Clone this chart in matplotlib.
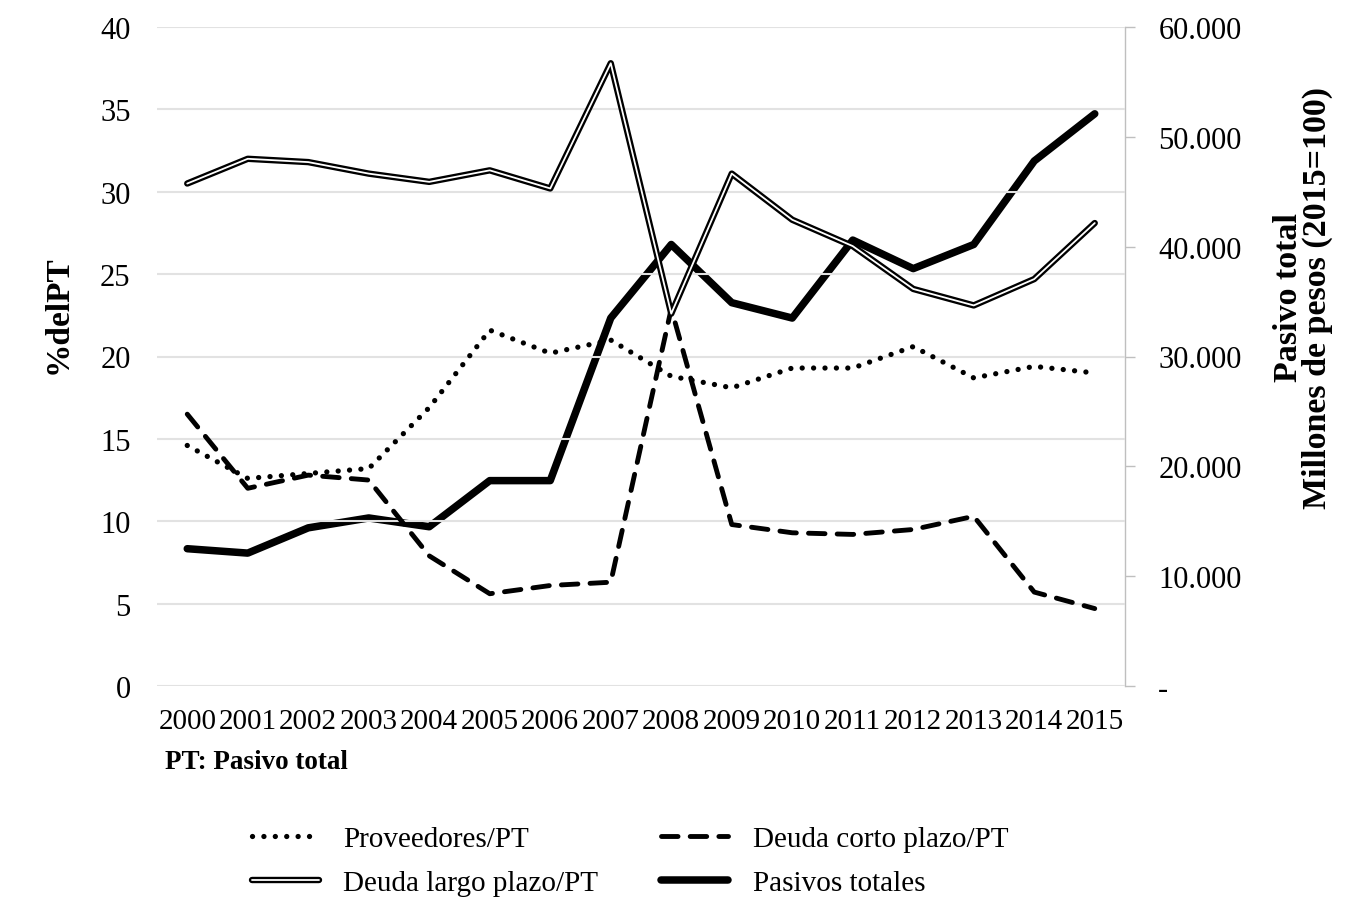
import matplotlib
matplotlib.use("Agg")
import matplotlib.pyplot as plt
import matplotlib.patheffects as pe
from matplotlib.ticker import FuncFormatter

plt.rcParams['font.family'] = ['Liberation Serif', 'DejaVu Serif']

years = list(range(2000, 2016))
proveedores = [14.6, 12.6, 12.9, 13.2, 16.9, 21.6, 20.2, 21.0, 18.8, 18.1, 19.3, 19.3, 20.6, 18.7, 19.4, 19.0]
deuda_corto = [16.5, 12.0, 12.8, 12.5, 7.9, 5.6, 6.1, 6.3, 22.9, 9.8, 9.3, 9.2, 9.5, 10.3, 5.7, 4.7]
deuda_largo = [30.5, 32.0, 31.8, 31.1, 30.6, 31.3, 30.2, 37.8, 22.6, 31.1, 28.3, 26.7, 24.1, 23.1, 24.7, 28.1]
pasivos_totales = [12500, 12100, 14400, 15300, 14500, 18700, 18700, 33500, 40200, 34900, 33500, 40600, 38000, 40200, 47800, 52100]

left_ticks = [0, 5, 10, 15, 20, 25, 30, 35, 40]
right_ticks = [0, 10000, 20000, 30000, 40000, 50000, 60000]

W, H = 1358, 903
fig = plt.figure(figsize=(W / 100, H / 100), dpi=100)
ax = fig.add_axes([157 / W, 1 - 687 / H, (1125 - 157) / W, (687 - 28) / H])
ax2 = ax.twinx()

ax.set_xlim(1999.5, 2015.5)
ax.set_ylim(0, 40)
ax2.set_ylim(0, 60000)

ax.set_yticks(left_ticks)
ax.grid(axis='y', color='#e2e2e2', linewidth=1.5)
ax.set_axisbelow(True)
for s in ['top', 'right', 'left', 'bottom']:
    ax.spines[s].set_visible(False)
for s in ['top', 'left', 'bottom']:
    ax2.spines[s].set_visible(False)
ax2.spines['right'].set_color('#bfbfbf')
ax2.spines['right'].set_linewidth(1.0)

ax.tick_params(axis='y', length=0, labelsize=22, pad=19)
ax.tick_params(axis='x', length=0, labelsize=21, pad=16)
ax.set_xticks(years)
ax.set_xticklabels([str(y) for y in years])

ax2.set_yticks(right_ticks)
ax2.yaxis.set_major_formatter(FuncFormatter(lambda v, p: '-' if v == 0 else f"{v:,.0f}".replace(",", ".")))
ax2.tick_params(axis='y', length=7, color='#bfbfbf', width=1.0, labelsize=22, pad=17)

l1, = ax.plot(years, proveedores, color='black', linewidth=3.8,
              linestyle=(0, (0.01, 2.15)), dash_capstyle='round', label='Proveedores/PT', zorder=3)
l2, = ax.plot(years, deuda_corto, color='black', linewidth=3.5,
              linestyle=(0, (3.4, 2.5)), dash_capstyle='round', label='Deuda corto plazo/PT', zorder=3)
l3, = ax.plot(years, deuda_largo, color='white', linewidth=1.3, label='Deuda largo plazo/PT', zorder=4,
              solid_capstyle='round',
              path_effects=[pe.Stroke(linewidth=4.6, foreground='black', capstyle='round'), pe.Normal()])
l4, = ax2.plot(years, pasivos_totales, color='black', linewidth=5.4, label='Pasivos totales',
               solid_capstyle='round', zorder=5)

ax.set_zorder(ax2.get_zorder() + 1)
ax.patch.set_visible(False)

fig.text(58 / W, 1 - 315 / H, '%delPT', rotation=90, ha='center', va='center',
         fontsize=24, fontweight='bold')
fig.text(1303 / W, 1 - 298 / H, 'Pasivo total\nMillones de pesos (2015=100)', rotation=90,
         ha='center', va='center', fontsize=24.5, fontweight='bold', linespacing=0.9, multialignment='center')
fig.text(165 / W, 1 - 763 / H, 'PT: Pasivo total', ha='left', va='center', fontsize=19.5, fontweight='bold')

leg = fig.legend(handles=[l1, l3, l2, l4], loc='center', bbox_to_anchor=(630 / W, 1 - 862 / H),
                 ncol=2, frameon=False, fontsize=21, handlelength=2.3, handletextpad=0.85,
                 columnspacing=2.15, labelspacing=0.6)

fig.savefig('out.png', dpi=100)
